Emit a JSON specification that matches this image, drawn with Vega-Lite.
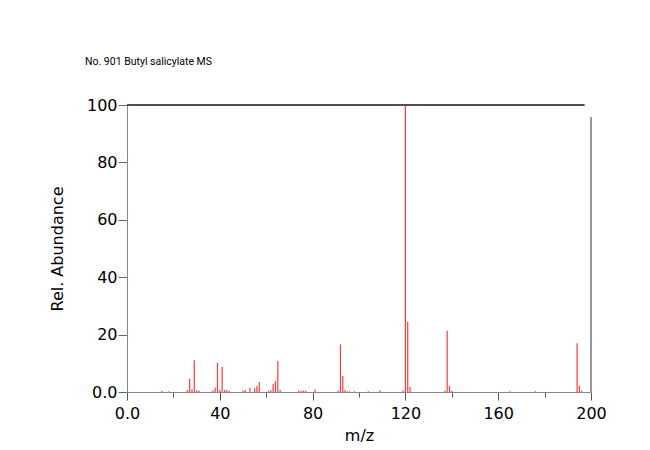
{
  "$schema": "https://vega.github.io/schema/vega-lite/v6.json",
  "width": 464,
  "height": 287,
  "autosize": {"type": "none"},
  "padding": {"left": 127, "top": 105, "right": 59, "bottom": 58},
  "background": "white",
  "config": {"view": {"stroke": null}, "font": "DejaVu Sans"},
  "title": {
    "text": "No. 901 Butyl salicylate MS",
    "anchor": "start",
    "frame": "group",
    "dx": -42,
    "offset": 22,
    "baseline": "alphabetic",
    "font": "Roboto",
    "fontSize": 10.5,
    "fontWeight": "normal",
    "color": "#000000"
  },
  "data": {
    "values": [
      {"mz": 15, "ab": 0.4}, {"mz": 18, "ab": 0.3}, {"mz": 26, "ab": 0.7}, {"mz": 27, "ab": 4.6},
      {"mz": 28, "ab": 1.0}, {"mz": 29, "ab": 11.1}, {"mz": 30, "ab": 0.5}, {"mz": 31, "ab": 0.5},
      {"mz": 37, "ab": 0.5}, {"mz": 38, "ab": 1.5}, {"mz": 39, "ab": 10.1}, {"mz": 40, "ab": 0.7},
      {"mz": 41, "ab": 8.7}, {"mz": 42, "ab": 0.7}, {"mz": 43, "ab": 0.7}, {"mz": 44, "ab": 0.4},
      {"mz": 50, "ab": 0.6}, {"mz": 51, "ab": 0.6}, {"mz": 53, "ab": 1.5}, {"mz": 55, "ab": 1.3},
      {"mz": 56, "ab": 2.1}, {"mz": 57, "ab": 3.5}, {"mz": 61, "ab": 0.4}, {"mz": 62, "ab": 0.6},
      {"mz": 63, "ab": 2.9}, {"mz": 64, "ab": 3.8}, {"mz": 65, "ab": 10.8}, {"mz": 66, "ab": 0.7},
      {"mz": 74, "ab": 0.4}, {"mz": 75, "ab": 0.4}, {"mz": 76, "ab": 0.4}, {"mz": 77, "ab": 0.4},
      {"mz": 81, "ab": 0.9}, {"mz": 91, "ab": 0.5}, {"mz": 92, "ab": 16.6}, {"mz": 93, "ab": 5.6},
      {"mz": 94, "ab": 0.7}, {"mz": 95, "ab": 0.3}, {"mz": 96, "ab": 0.3}, {"mz": 98, "ab": 0.3},
      {"mz": 104, "ab": 0.3}, {"mz": 109, "ab": 0.6}, {"mz": 119, "ab": 0.5}, {"mz": 120, "ab": 100},
      {"mz": 121, "ab": 24.4}, {"mz": 122, "ab": 1.8}, {"mz": 137, "ab": 0.4}, {"mz": 138, "ab": 21.3},
      {"mz": 139, "ab": 2.1}, {"mz": 140, "ab": 0.4}, {"mz": 165, "ab": 0.3}, {"mz": 176, "ab": 0.3},
      {"mz": 194, "ab": 17.0}, {"mz": 195, "ab": 2.1}, {"mz": 196, "ab": 0.4}
    ]
  },
  "layer": [
    {
      "mark": {"type": "rule", "color": "#ff3a3a", "strokeWidth": 1.2},
      "encoding": {
        "x": {
          "field": "mz",
          "type": "quantitative",
          "scale": {"domain": [0, 200], "nice": false, "zero": false},
          "axis": {
            "title": "m/z",
            "values": [0, 10, 20, 30, 40, 50, 60, 70, 80, 90, 100, 110, 120, 130, 140, 150, 160, 170, 180, 190, 200],
            "labelExpr": "datum.value % 40 === 0 ? (datum.value === 0 ? '0.0' : datum.label) : ''",
            "tickSize": {"condition": {"test": "datum.value % 40 === 0", "value": 8}, "value": 5},
            "grid": false,
            "domainColor": "#888888",
            "tickColor": "#555555",
            "labelFont": "DejaVu Sans",
            "labelFontSize": 16,
            "labelColor": "#000000",
            "labelPadding": 5,
            "labelFlush": false,
            "labelOverlap": false,
            "titleFont": "DejaVu Sans",
            "titleFontSize": 16,
            "titleFontWeight": "normal",
            "titleColor": "#000000",
            "titlePadding": 6
          }
        },
        "y": {
          "field": "ab",
          "type": "quantitative",
          "scale": {"domain": [0, 100], "nice": false},
          "axis": {
            "title": "Rel. Abundance",
            "values": [0, 10, 20, 30, 40, 50, 60, 70, 80, 90, 100],
            "labelExpr": "datum.value % 20 === 0 ? (datum.value === 0 ? '0.0' : datum.label) : ''",
            "tickSize": {"condition": {"test": "datum.value % 20 === 0", "value": 9}, "value": 5},
            "grid": false,
            "domainColor": "#888888",
            "tickColor": "#666666",
            "labelFont": "DejaVu Sans",
            "labelFontSize": 16,
            "labelColor": "#000000",
            "labelPadding": 1,
            "labelFlush": false,
            "labelOverlap": false,
            "titleFont": "DejaVu Sans",
            "titleFontSize": 16,
            "titleFontWeight": "normal",
            "titleColor": "#000000",
            "titlePadding": 21
          }
        },
        "y2": {"datum": 0}
      }
    },
    {
      "mark": {"type": "rule", "color": "#505050", "strokeWidth": 1},
      "encoding": {
        "x": {"datum": 0, "type": "quantitative"},
        "x2": {"datum": 197},
        "y": {"datum": 100, "type": "quantitative"}
      }
    },
    {
      "mark": {"type": "rule", "color": "#999999", "strokeWidth": 1.5},
      "encoding": {
        "x": {"datum": 200, "type": "quantitative"},
        "y": {"datum": 0, "type": "quantitative"},
        "y2": {"datum": 95.8}
      }
    }
  ]
}
